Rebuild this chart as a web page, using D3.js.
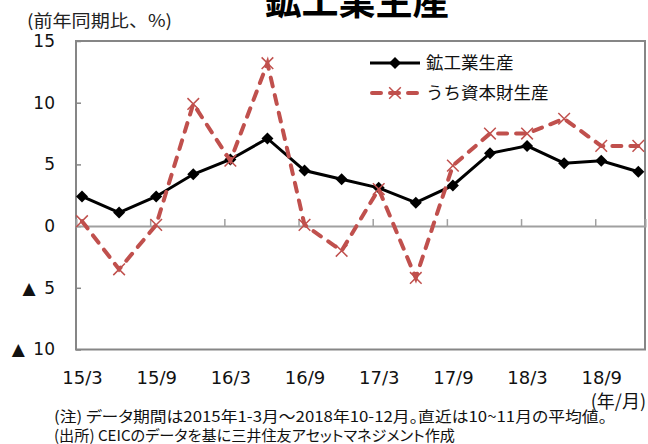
<!DOCTYPE html>
<html>
<head>
<meta charset="utf-8">
<script src="https://cdn.jsdelivr.net/npm/d3@7"></script>
<style>
  body { margin: 0; background: #fff; }
  svg { display: block; }
</style>
</head>
<body>
<script>
// quarterly data, 2015 Q1 .. 2018 Q4 (labelled by quarter-end month)
const quarters = ["15/3","15/6","15/9","15/12","16/3","16/6","16/9","16/12",
                  "17/3","17/6","17/9","17/12","18/3","18/6","18/9","18/12"];
const mining   = [2.4, 1.1, 2.4, 4.2, 5.4, 7.1, 4.5, 3.8, 3.1, 1.9, 3.3, 5.9, 6.5, 5.1, 5.3, 4.4];
const capital  = [0.4, -3.5, 0.1, 9.9, 5.3, 13.2, 0.1, -2.0, 3.0, -4.2, 4.9, 7.5, 7.5, 8.7, 6.5, 6.5];
const yTicks   = [15, 10, 5, 0, -5, -10];
const xLabels  = ["15/3","15/9","16/3","16/9","17/3","17/9","18/3","18/9"];
const seriesNames = ["鉱工業生産", "うち資本財生産"];

const W = 648, H = 444;
const plotLeft = 76, plotRight = 645, plotTop = 41, plotBottom = 349.5;
const numFont = "'DejaVu Sans', Verdana, sans-serif";
const jpFont = "'Noto Sans CJK JP', sans-serif";

const svg = d3.select("body").append("svg")
    .attr("width", W)
    .attr("height", H);

// [1] scales - x in quarter index, axis starts a little before first point
const x = d3.scaleLinear()
    .domain([-0.162, 15.18])
    .range([plotLeft, plotRight]);

const y = d3.scaleLinear()
    .domain([-10, 15])
    .range([plotBottom, plotTop]);

// title (cut off at the top in the original)
svg.append("text")
    .attr("x", 357).attr("y", 15)
    .attr("text-anchor", "middle")
    .attr("font-family", jpFont)
    .attr("font-weight", "bold")
    .attr("font-size", 37)
    .text("鉱工業生産");

svg.append("text")
    .attr("x", 27).attr("y", 27)
    .attr("font-family", jpFont)
    .attr("font-size", 17)
    .attr("textLength", 145)
    .attr("lengthAdjust", "spacingAndGlyphs")
    .attr("fill", "#222")
    .text("(前年同期比、%)");

// [2] plot frame
svg.append("rect")
    .attr("x", plotLeft).attr("y", plotTop)
    .attr("width", plotRight - plotLeft).attr("height", plotBottom - plotTop)
    .attr("fill", "none")
    .attr("stroke", "#868686")
    .attr("stroke-width", 2);

// y axis
const yAxis = d3.axisLeft(y)
    .tickValues(yTicks)
    .tickSize(-5)
    .tickPadding(21)
    .tickFormat(d => d < 0 ? "▲\u2002" + Math.abs(d) : d);

svg.append("g")
    .attr("transform", `translate(${plotLeft},0)`)
    .call(yAxis)
    .call(g => g.select(".domain").remove())
    .call(g => g.selectAll("line").attr("stroke", "#868686").attr("stroke-width", 1.5))
    .call(g => g.selectAll("text")
        .attr("font-family", numFont)
        .attr("font-size", 17)
        .attr("fill", "#111"));

// zero line with tick marks every two quarters
const tickPos = d3.range(1, 8).map(k => -0.162 + 2 * k);
svg.append("g")
    .attr("transform", `translate(0,${y(0)})`)
    .call(d3.axisTop(x).tickValues(tickPos).tickSize(7).tickFormat(""))
    .call(g => g.select(".domain").attr("stroke", "#a0a0a0").attr("stroke-width", 2))
    .call(g => g.selectAll("line").attr("stroke", "#a0a0a0").attr("stroke-width", 1.5));

// x labels under the frame
svg.append("g")
    .attr("transform", `translate(0,${plotBottom})`)
    .call(d3.axisBottom(x)
        .tickValues(xLabels.map(l => quarters.indexOf(l)))
        .tickSize(0)
        .tickPadding(22)
        .tickFormat(i => quarters[i]))
    .call(g => g.select(".domain").remove())
    .call(g => g.selectAll("text")
        .attr("font-family", numFont)
        .attr("font-size", 18)
        .attr("fill", "#111"));

svg.append("text")
    .attr("x", 646).attr("y", 408)
    .attr("text-anchor", "end")
    .attr("font-family", jpFont)
    .attr("font-size", 18)
    .attr("fill", "#111")
    .text("(年/月)");

// [3] lines
const line = d3.line()
    .x((d, i) => x(i))
    .y(d => y(d));

svg.append("path")
    .datum(mining)
    .attr("fill", "none")
    .attr("stroke", "#000")
    .attr("stroke-width", 3)
    .attr("d", line);

const diamond = d3.symbol().type(d3.symbolSquare).size(72);

svg.append("g")
    .selectAll("path")
    .data(mining)
    .enter()
    .append("path")
        .attr("transform", (d, i) => `translate(${x(i)},${y(d)}) rotate(45)`)
        .attr("d", diamond)
        .attr("fill", "#000");

const red = "#C0504D";

svg.append("path")
    .datum(capital)
    .attr("fill", "none")
    .attr("stroke", red)
    .attr("stroke-width", 4)
    .attr("stroke-linecap", "round")
    .attr("stroke-dasharray", "9,9")
    .attr("d", line);

// symbolTimes is a stroked symbol in v7
const cross = d3.symbol().type(d3.symbolTimes).size(90);

svg.append("g")
    .selectAll("path")
    .data(capital)
    .enter()
    .append("path")
        .attr("transform", (d, i) => `translate(${x(i)},${y(d)})`)
        .attr("d", cross)
        .attr("fill", "none")
        .attr("stroke", red)
        .attr("stroke-width", 1.5);

// [4] legend
const legend = svg.append("g");
const legY = [63, 93];

legend.append("line")
    .attr("x1", 370).attr("x2", 420)
    .attr("y1", legY[0]).attr("y2", legY[0])
    .attr("stroke", "#000").attr("stroke-width", 3);
legend.append("path")
    .attr("transform", `translate(395,${legY[0]}) rotate(45)`)
    .attr("d", diamond)
    .attr("fill", "#000");

legend.append("line")
    .attr("x1", 372).attr("x2", 418)
    .attr("y1", legY[1]).attr("y2", legY[1])
    .attr("stroke", red).attr("stroke-width", 4)
    .attr("stroke-linecap", "round")
    .attr("stroke-dasharray", "9,9");
legend.append("path")
    .attr("transform", `translate(395,${legY[1]})`)
    .attr("d", cross)
    .attr("fill", "none")
    .attr("stroke", red)
    .attr("stroke-width", 1.5);

legend.selectAll("text")
    .data(seriesNames)
    .enter()
    .append("text")
        .attr("x", 426)
        .attr("y", (d, i) => legY[i] + 6)
        .attr("font-family", jpFont)
        .attr("font-size", 17.5)
        .attr("fill", "#111")
        .text(d => d);

// [5] footnotes
const notes = [
    "(注) データ期間は2015年1-3月～2018年10-12月。直近は10~11月の平均値。",
    "(出所) CEICのデータを基に三井住友アセットマネジメント作成"
];
const noteWidths = [553, 401];
svg.selectAll(".note")
    .data(notes)
    .enter()
    .append("text")
        .attr("class", "note")
        .attr("x", 54)
        .attr("y", (d, i) => 422 + i * 19)
        .attr("font-family", jpFont)
        .attr("font-size", 15)
        .style("font-feature-settings", "'palt'")
        .attr("textLength", (d, i) => noteWidths[i])
        .attr("lengthAdjust", "spacingAndGlyphs")
        .attr("fill", "#111")
        .text(d => d);
</script>
</body>
</html>
